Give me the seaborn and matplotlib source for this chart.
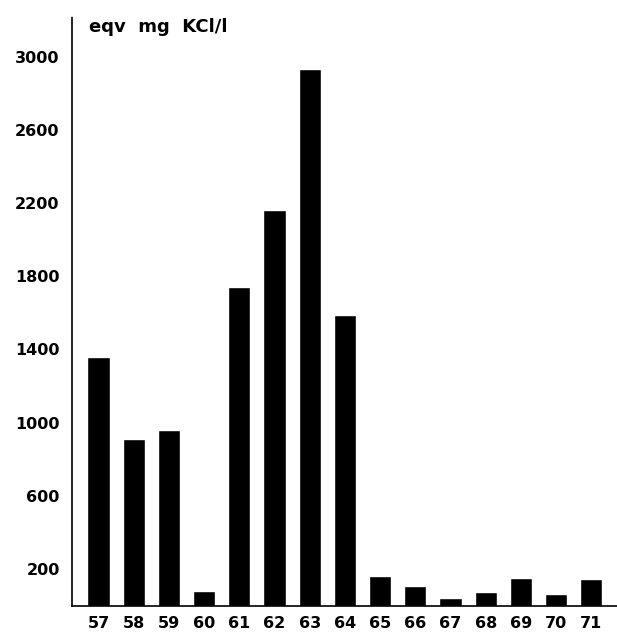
import pandas as pd
import seaborn as sns
import matplotlib.pyplot as plt

# years (19xx) and KCl equivalent
years = ['57', '58', '59', '60', '61', '62', '63', '64',
         '65', '66', '67', '68', '69', '70', '71']
kcl = [1360, 910, 960, 80, 1740, 2160, 2930, 1590,
       160, 110, 40, 75, 150, 65, 145]
yticks = [200, 600, 1000, 1400, 1800, 2200, 2600, 3000]

df = pd.DataFrame({'year': years, 'kcl': kcl})

sns.set_style('white')
plt.rcParams['font.family'] = ['DejaVu Sans']

fig = plt.figure(figsize=(6.17, 6.35), dpi=100)
ax = fig.add_axes([0.117, 0.046, 0.883, 0.927])

sns.barplot(data=df, x='year', y='kcl', order=years, color='black',
            width=0.63, ax=ax, saturation=1)

ax.set_xlim(-0.75, 14.73)
ax.set_ylim(0, 3215)
ax.set_yticks(yticks)
ax.set_yticklabels([str(t) for t in yticks], fontsize=11.5,
                   fontweight='bold', color='black')
ax.tick_params(axis='y', direction='out', length=7, width=1.2, pad=2,
               color='black')
ax.tick_params(axis='x', length=0, labelsize=11.5, pad=7, labelcolor='black')
for lab in ax.get_xticklabels():
    lab.set_fontweight('bold')

ax.set_xlabel('')
ax.set_ylabel('')
sns.despine(ax=ax, top=True, right=True)
ax.spines['left'].set_linewidth(1.2)
ax.spines['left'].set_color('black')
ax.spines['left'].set_linestyle((0, (5, 1)))
ax.spines['bottom'].set_linewidth(1.2)
ax.spines['bottom'].set_color('black')

ax.text(0.03, 0.998, 'eqv  mg  KCl/l', transform=ax.transAxes,
        fontsize=13, fontweight='bold', va='top', ha='left', color='black')

fig.savefig('out.png', dpi=100)
